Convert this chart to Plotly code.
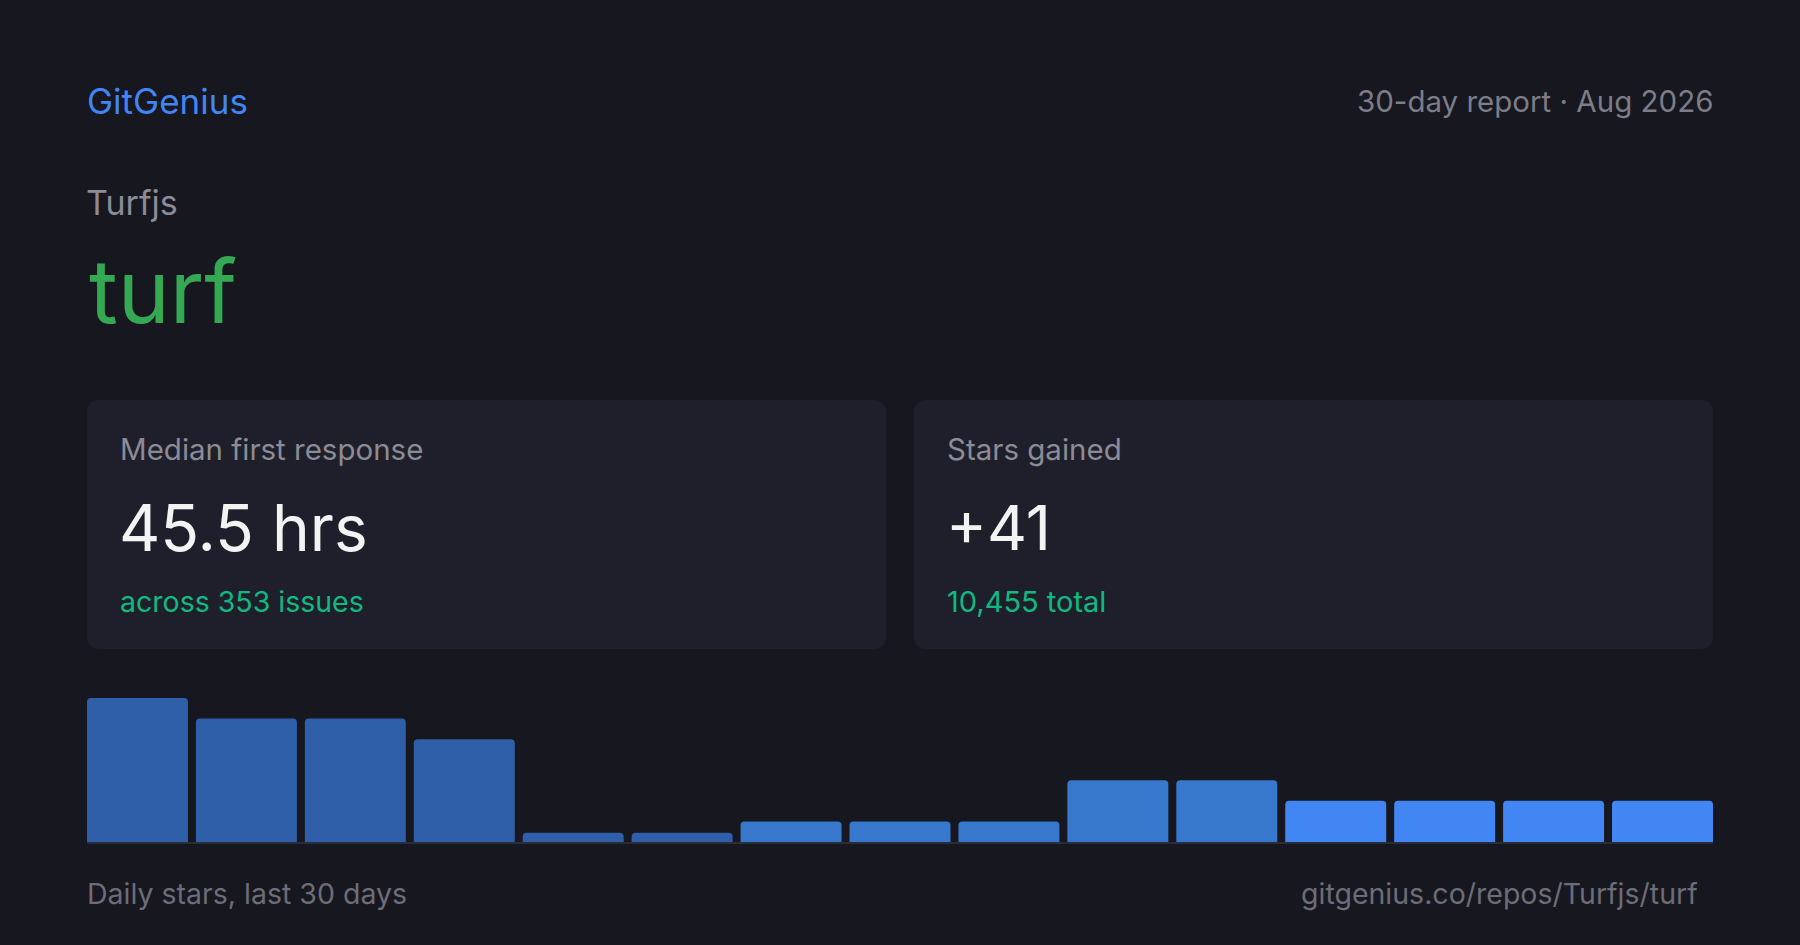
import plotly.graph_objects as go

repo_owner = "Turfjs"
repo_name = "turf"
report_label = "30-day report · Aug 2026"
median_response_hrs = 45.5
issues_count = 353
stars_gained = 41
stars_total = 10455
daily_stars = [7, 6, 6, 5, 0, 0, 1, 1, 1, 3, 3, 2, 2, 2, 2]

# styling
BG = "#16171f"
CARD = "#1f1f2b"
FONT = "Inter"
bar_colors = ["#2f5fa9"] * 6 + ["#3778cc"] * 5 + ["#4286f4"] * 4

W, H = 1800, 945
LEFT, RIGHT = 87, 1713
BAR_GAP = 0.073
STUB = 0.45  # zero days still get a thin visible bar


def px_x(v):
    return v / W


def px_y(v):
    return 1 - v / H


bars = go.Bar(
    x=list(range(len(daily_stars))),
    y=[max(v, STUB) for v in daily_stars],
    marker=dict(color=bar_colors, cornerradius=4, line=dict(width=0)),
    hoverinfo="skip",
)

fig = go.Figure(bars)


def note(text, x, y, size, color, xanchor="left"):
    return dict(
        text=text, xref="paper", yref="paper", x=px_x(x), y=px_y(y),
        xanchor=xanchor, yanchor="middle", showarrow=False,
        font=dict(family=FONT, size=size, color=color),
    )


annotations = [
    note("GitGenius", 85, 101, 35, "#4285f4"),
    note(report_label, 1715, 101, 29.5, "#7c7d88", "right"),
    note(repo_owner, 84, 202, 34, "#8b8c96"),
    note(repo_name, 87, 291, 88, "#34a853"),
    note("Median first response", 118, 449, 29.5, "#8b8c96"),
    note("{:g} hrs".format(median_response_hrs), 117, 527, 64, "#f3f3f3"),
    note("across {} issues".format(issues_count), 118, 601, 28.5, "#10b981"),
    note("Stars gained", 945, 449, 29.5, "#8b8c96"),
    note("+{}".format(stars_gained), 944, 527, 62, "#f3f3f3"),
    note("{:,} total".format(stars_total), 945, 601, 29, "#10b981"),
    note("Daily stars, last 30 days", 85, 893, 28.5, "#6c6d78"),
    note("gitgenius.co/repos/{}/{}".format(repo_owner, repo_name), 1700, 893, 28.5,
         "#6c6d78", "right"),
]

# rounded card corners via path shapes in pixel-based paper coords
R = 13


def rounded(x0, x1, y0, y1, r):
    pts = [
        "M {},{}".format(px_x(x0 + r), px_y(y0)),
        "L {},{}".format(px_x(x1 - r), px_y(y0)),
        "Q {},{} {},{}".format(px_x(x1), px_y(y0), px_x(x1), px_y(y0 + r)),
        "L {},{}".format(px_x(x1), px_y(y1 - r)),
        "Q {},{} {},{}".format(px_x(x1), px_y(y1), px_x(x1 - r), px_y(y1)),
        "L {},{}".format(px_x(x0 + r), px_y(y1)),
        "Q {},{} {},{}".format(px_x(x0), px_y(y1), px_x(x0), px_y(y1 - r)),
        "L {},{}".format(px_x(x0), px_y(y0 + r)),
        "Q {},{} {},{}".format(px_x(x0), px_y(y0), px_x(x0 + r), px_y(y0)),
        "Z",
    ]
    return " ".join(pts)


shapes = [
    dict(type="path", xref="paper", yref="paper",
         path=rounded(x0, x1, 400, 649, R),
         fillcolor=CARD, line=dict(width=0), layer="below")
    for x0, x1 in [(87, 886), (914, 1713)]
]

half = (1 - BAR_GAP) / 2
fig.update_layout(
    width=W, height=H,
    margin=dict(l=0, r=0, t=0, b=0),
    paper_bgcolor=BG, plot_bgcolor=BG,
    showlegend=False,
    bargap=BAR_GAP,
    shapes=shapes,
    annotations=annotations,
    xaxis=dict(
        domain=[px_x(LEFT), px_x(RIGHT)],
        range=[-half, len(daily_stars) - 1 + half],
        showgrid=False, zeroline=False, showticklabels=False, ticks="",
        showline=True, linecolor="#2b2c39", linewidth=2, fixedrange=True,
    ),
    yaxis=dict(
        domain=[px_y(842), px_y(698)],
        range=[0, max(daily_stars)],
        showgrid=False, zeroline=False, showticklabels=False, ticks="",
        showline=False, fixedrange=True,
    ),
)

fig.write_html(
    "out.html",
    config={"displayModeBar": False},
    post_script="document.body.style.margin='0';"
                "document.body.style.background='" + BG + "';",
)
